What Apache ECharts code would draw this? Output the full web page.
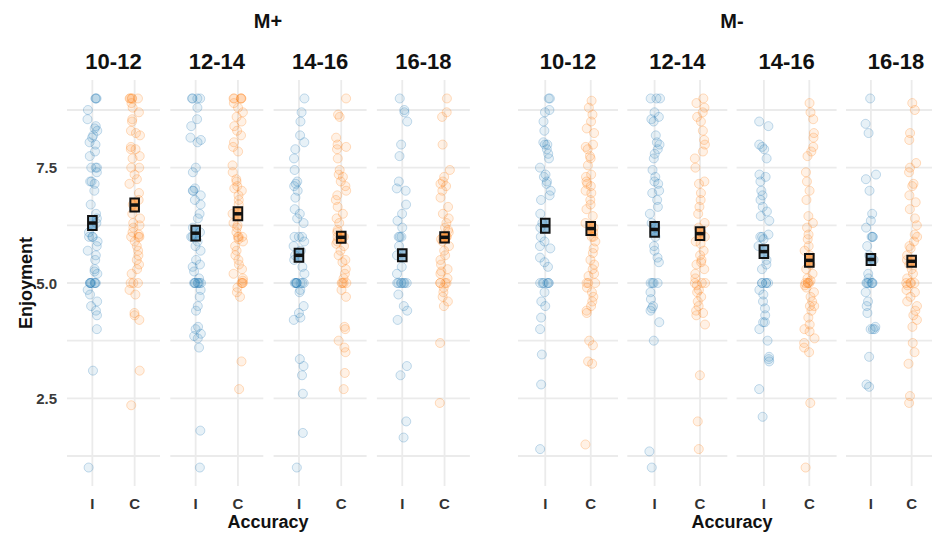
<!DOCTYPE html>
<html><head><meta charset="utf-8">
<script src="https://cdn.jsdelivr.net/npm/echarts@6/dist/echarts.min.js"></script>
<style>html,body{margin:0;padding:0;background:#fff}#c{width:932px;height:533px}</style>
</head><body><div id="c"></div>
<script>
// ---------- DATA ----------
const groups = ['M+', 'M-'];
const ageBins = ['10-12', '12-14', '14-16', '16-18'];
const accuracy = ['I', 'C'];
const yTicks = [2.5, 5.0, 7.5];
const yGridValues = [1.25, 2.5, 3.75, 5, 6.25, 7.5, 8.75];

const mPlus_10_12_I = [9,9,9,8.75,8.55,8.4,8.35,8.3,8.2,8.15,8.05,8,7.85,7.75,7.5,7.5,7.5,7.4,7.2,7.2,7.15,7,6.7,6.5,6.4,6.3,6.25,6.1,6,6,6,5.9,5.8,5.7,5.6,5.5,5.3,5.25,5.2,5,5,5,5,5,5,5,4.85,4.75,4.6,4.5,4.4,4.3,4,3.1,1];
const mPlus_10_12_C = [9,9,9,9,9,8.9,8.8,8.7,8.55,8.5,8.3,8.25,8.2,7.95,7.9,7.9,7.75,7.7,7.5,7.5,7.35,7.25,7.15,6.95,6.8,6.7,6.5,6.4,6.3,6.25,6.2,6.1,6.05,6,6,6,5.9,5.8,5.7,5.6,5.5,5.4,5.3,5.2,5,5,5,4.85,4.75,4.35,4.3,4.2,3.1,2.35];
const mPlus_12_14_I = [9,9,9,9,8.8,8.55,8.4,8.15,8.1,8.05,7.5,7.4,7.05,7,7,6.9,6.8,6.7,6.5,6.4,6.2,6.1,6,6,6,5.9,5.8,5.7,5.5,5.4,5.35,5.25,5.1,5,5,5,5,5,5,5,4.85,4.7,4.5,4.4,4.05,4,3.9,3.85,3.8,3.6,1.8,1];
const mPlus_12_14_C = [9,9,9,9,9,8.9,8.8,8.7,8.6,8.5,8.4,8.3,8.2,8.05,7.95,7.85,7.55,7.4,7.25,7.2,7.1,7.05,7,6.9,6.8,6.7,6.5,6.3,6.25,6.2,6.1,6,6,6,5.95,5.9,5.8,5.7,5.6,5.5,5.4,5.3,5.2,5.1,5.05,5,5,5,4.9,4.8,4.7,3.3,2.7];
const mPlus_14_16_I = [9,8.7,8.5,8.2,8.05,7.9,7.7,7.45,7.2,7.15,7.1,7,6.85,6.6,6.5,6.4,6.3,6,6,6,5.9,5.8,5.7,5.6,5.5,5.35,5.2,5,5,5,5,5,5,5,5,4.85,4.8,4.5,4.35,4.25,4.2,3.35,3.2,3,2.6,1.75,1];
const mPlus_14_16_C = [9,8.65,8.6,8.15,8,7.95,7.9,7.7,7.45,7.35,7.3,7.2,7.1,7,6.9,6.8,6.65,6.5,6.4,6.3,6.15,6.1,6,6,6,5.9,5.85,5.8,5.7,5.6,5.5,5.45,5.3,5.2,5.1,5,5,5,5,4.85,4.7,4.05,4,3.75,3.6,3.5,3.05,2.7];
const mPlus_16_18_I = [9,8.75,8.7,8.5,8,7.75,7.2,7.05,7,6.7,6.5,6.35,6.2,6,6,6,5.8,5.6,5.35,5.2,5,5,5,5,5,5,5,4.75,4.5,4.4,4.2,3.2,3,2,1.65];
const mPlus_16_18_C = [9,8.7,8.6,8,7.45,7.3,7.2,7.15,7.1,7,6.85,6.65,6.5,6.4,6.3,6.2,6.15,6.1,6,6,6,5.95,5.9,5.8,5.7,5.6,5.5,5.4,5.3,5.25,5.2,5.1,5,5,5,5,4.9,4.8,4.7,4.6,4.5,3.7,2.4];
const mMinus_10_12_I = [9,9,8.75,8.7,8.5,8.3,8.05,8,8,7.9,7.8,7.7,7.5,7.35,7.3,7.2,7.15,7,6.9,6.8,6.5,6.3,6.2,6,5.9,5.8,5.75,5.55,5.45,5.35,5,5,5,5,5,5,4.8,4.6,4.5,4.25,4,3.45,2.8,1.4];
const mMinus_10_12_C = [8.95,8.8,8.65,8.5,8.35,8.25,8,7.95,7.9,7.75,7.7,7.55,7.35,7.3,7.2,7.15,7.1,7,6.95,6.8,6.7,6.6,6.45,6.3,6.2,6.1,6,6,5.9,5.75,5.65,5.5,5.4,5.3,5.2,5.15,5,5,5,4.9,4.8,4.7,4.6,4.5,4.4,4.35,3.75,3.65,3.3,3.25,1.5];
const mMinus_12_14_I = [9,9,9,8.7,8.6,8.55,8.5,8.2,8.05,8,7.9,7.8,7.7,7.45,7.3,7.2,7.15,7,6.95,6.8,6.65,6.5,6.3,6.2,6.1,6,5.8,5.7,5.55,5.45,5,5,5,5,4.8,4.65,4.5,4.45,4.4,4.15,3.75,1.35,1];
const mMinus_12_14_C = [9,8.9,8.8,8.7,8.6,8.5,8.3,8.1,8,7.85,7.7,7.5,7.2,7.15,6.95,6.8,6.65,6.5,6.3,6.2,6.1,6,5.9,5.85,5.7,5.6,5.5,5.45,5.4,5.3,5.2,5.1,5,5,5,4.95,4.85,4.8,4.7,4.6,4.5,4.4,4.35,4.3,4.1,3,2,1.4];
const mMinus_14_16_I = [8.5,8.4,8,7.95,7.9,7.7,7.35,7.3,7.2,7,6.9,6.8,6.65,6.55,6.45,6.35,6.05,6,6,5.95,5.8,5.5,5.4,5.3,5,5,5,5,5,4.85,4.75,4.6,4.45,4.3,4.15,4.15,4,3.75,3.4,3.35,3.3,2.7,2.1];
const mMinus_14_16_C = [8.9,8.7,8.55,8.25,8.15,7.95,7.85,7.75,7.4,7.2,7,6.8,6.45,6.3,6.2,6.05,5.95,5.8,5.7,5.6,5.5,5.4,5.3,5.2,5.1,5.05,5,5,5,5,4.95,4.9,4.8,4.7,4.6,4.5,4.5,4.4,4.25,4.1,4,3.95,3.8,3.7,3.6,3.5,2.4,1];
const mMinus_16_18_I = [9,8.45,8.25,7.35,7.25,7,6.5,6.35,6.2,6,6,6,5.8,5.6,5.5,5.2,5.1,5,5,5,5,5,5,4.8,4.6,4.5,4.35,4.05,4,4,4,3.4,2.8,2.75];
const mMinus_16_18_C = [8.9,8.75,8.25,8.1,7.6,7.5,7.4,7.15,7.1,6.9,6.75,6.6,6.4,6.25,6.05,6,5.9,5.8,5.75,5.6,5.5,5.4,5.3,5.2,5.1,5,5,5,5,4.95,4.85,4.8,4.7,4.6,4.5,4.4,4.3,4.2,4.05,3.7,3.5,3.25,2.55,2.4];

const meanMPlusI  = [6.30, 6.08, 5.60, 5.60];
const meanMPlusC  = [6.69, 6.50, 5.99, 5.99];
const meanMMinusI = [6.24, 6.16, 5.68, 5.51];
const meanMMinusC = [6.18, 6.07, 5.49, 5.47];
const seMPlusI  = [0.15, 0.16, 0.14, 0.13];
const seMPlusC  = [0.14, 0.14, 0.12, 0.11];
const seMMinusI = [0.15, 0.16, 0.14, 0.12];
const seMMinusC = [0.14, 0.14, 0.14, 0.12];

// ---------- assembly ----------
const pointsBy = {
  'M+': { I: [mPlus_10_12_I, mPlus_12_14_I, mPlus_14_16_I, mPlus_16_18_I],
          C: [mPlus_10_12_C, mPlus_12_14_C, mPlus_14_16_C, mPlus_16_18_C] },
  'M-': { I: [mMinus_10_12_I, mMinus_12_14_I, mMinus_14_16_I, mMinus_16_18_I],
          C: [mMinus_10_12_C, mMinus_12_14_C, mMinus_14_16_C, mMinus_16_18_C] }
};
const meansBy = { 'M+': { I: meanMPlusI, C: meanMPlusC }, 'M-': { I: meanMMinusI, C: meanMMinusC } };
const sesBy = { 'M+': { I: seMPlusI, C: seMPlusC }, 'M-': { I: seMMinusI, C: seMMinusC } };

const FONT = '"Liberation Sans", Arial, Helvetica, sans-serif';
const Y_MIN = 0.6, Y_MAX = 9.4, TOP = 80, H = 406;
const layouts = [
  { lefts: [67, 170.3, 273.6, 376.9], w: 93, center: 268 },
  { lefts: [518, 627.3, 736.6, 846], w: 100, center: 732 }
];
const pointFill = ['rgba(31,119,180,0.13)', 'rgba(255,127,14,0.13)'];
const pointStroke = ['rgba(31,119,180,0.32)', 'rgba(255,127,14,0.32)'];
const boxFill = ['rgba(31,119,180,0.45)', 'rgba(255,127,14,0.55)'];
const GRID_COLOR = '#ebebeb';

const grids = [], xAxes = [], yAxes = [], series = [], graphics = [];

groups.forEach((g, gi) => {
  const lay = layouts[gi];
  graphics.push({ type: 'text', x: lay.center, y: 21, style: { text: g, align: 'center', verticalAlign: 'middle', fontSize: 20, fontWeight: 'bold', fontFamily: FONT, fill: '#111' } });
  graphics.push({ type: 'text', x: lay.center, y: 522, style: { text: 'Accuracy', align: 'center', verticalAlign: 'middle', fontSize: 18, fontWeight: 'bold', fontFamily: FONT, fill: '#111' } });
  ageBins.forEach((a, ai) => {
    const L = lay.lefts[ai], w = lay.w;
    graphics.push({ type: 'text', x: L + w / 2, y: 61, style: { text: a, align: 'center', verticalAlign: 'middle', fontSize: 22, fontWeight: 'bold', fontFamily: FONT, fill: '#111' } });
    // background grid (horizontal gridlines, y labels)
    const bg = grids.length;
    grids.push({ left: L, top: TOP, width: w, height: H });
    xAxes.push({ gridIndex: bg, type: 'value', min: 0, max: 1, show: false });
    yAxes.push({ gridIndex: bg, type: 'value', min: Y_MIN, max: Y_MAX,
      axisLine: { show: false }, axisTick: { show: false }, splitLine: { show: false },
      axisLabel: { show: gi === 0 && ai === 0, customValues: yTicks, formatter: v => Number(v).toFixed(1),
        color: '#3a3a3a', fontSize: 15, fontWeight: 'bold', fontFamily: FONT, margin: 10 } });
    series.push({ type: 'custom', xAxisIndex: bg, yAxisIndex: bg, silent: true, z: 0,
      data: yGridValues.map(v => [0, v]),
      renderItem: (p, api) => {
        const v = api.value(1);
        const p1 = api.coord([0, v]), p2 = api.coord([1, v]);
        return { type: 'line', shape: { x1: p1[0], y1: p1[1], x2: p2[0], y2: p2[1] }, style: { stroke: GRID_COLOR, lineWidth: 1.8 } };
      } });
    // data grid
    const dg = grids.length;
    const inset = w / 22;
    grids.push({ left: L + inset, top: TOP, width: w - 2 * inset, height: H });
    xAxes.push({ gridIndex: dg, type: 'category', data: accuracy, boundaryGap: true,
      jitter: 11, jitterOverlap: true,
      axisLine: { show: false }, axisTick: { show: false }, splitLine: { show: false },
      axisLabel: { color: '#333', fontSize: 15, fontWeight: 'bold', fontFamily: FONT, margin: 10 } });
    yAxes.push({ gridIndex: dg, type: 'value', min: Y_MIN, max: Y_MAX, show: false });
    // vertical gridlines
    series.push({ type: 'custom', xAxisIndex: dg, yAxisIndex: dg, silent: true, z: 0,
      data: accuracy.map((c, ci) => [ci, Y_MIN]),
      renderItem: (p, api) => {
        const x = api.value(0);
        const a1 = api.coord([x, Y_MIN]), a2 = api.coord([x, Y_MAX]);
        return { type: 'line', shape: { x1: a1[0], y1: a1[1], x2: a2[0], y2: a2[1] }, style: { stroke: GRID_COLOR, lineWidth: 1.8 } };
      } });
    // jittered points
    accuracy.forEach((c, ci) => {
      series.push({ type: 'scatter', xAxisIndex: dg, yAxisIndex: dg, silent: true, z: 2,
        symbol: 'circle', symbolSize: 9,
        itemStyle: { color: pointFill[ci], borderColor: pointStroke[ci], borderWidth: 1 },
        data: pointsBy[g][c][ai].map(v => [ci, v]) });
    });
    // mean +/- se crossbars
    series.push({ type: 'custom', xAxisIndex: dg, yAxisIndex: dg, silent: true, z: 5,
      data: accuracy.map((c, ci) => [ci, meansBy[g][c][ai], sesBy[g][c][ai]]),
      renderItem: (p, api) => {
        const ci = api.value(0), m = api.value(1), s = api.value(2);
        const ctr = api.coord([ci, m]), t = api.coord([ci, m + s]), b = api.coord([ci, m - s]);
        const hw = 4.3;
        return { type: 'group', children: [
          { type: 'rect', shape: { x: ctr[0] - hw, y: t[1], width: 2 * hw, height: b[1] - t[1] }, style: { fill: boxFill[ci], stroke: '#111', lineWidth: 2 } },
          { type: 'line', shape: { x1: ctr[0] - hw, y1: ctr[1], x2: ctr[0] + hw, y2: ctr[1] }, style: { stroke: '#111', lineWidth: 3.5 } }
        ] };
      } });
  });
});

graphics.push({ type: 'text', x: 26, y: 283, rotation: Math.PI / 2,
  style: { text: 'Enjoyment', align: 'center', verticalAlign: 'middle', fontSize: 18, fontWeight: 'bold', fontFamily: FONT, fill: '#111' } });

const chart = echarts.init(document.getElementById('c'), null, { renderer: 'svg', width: 932, height: 533 });
chart.setOption({
  animation: false,
  backgroundColor: '#fff',
  grid: grids, xAxis: xAxes, yAxis: yAxes, series: series,
  graphic: graphics
});
</script></body></html>
